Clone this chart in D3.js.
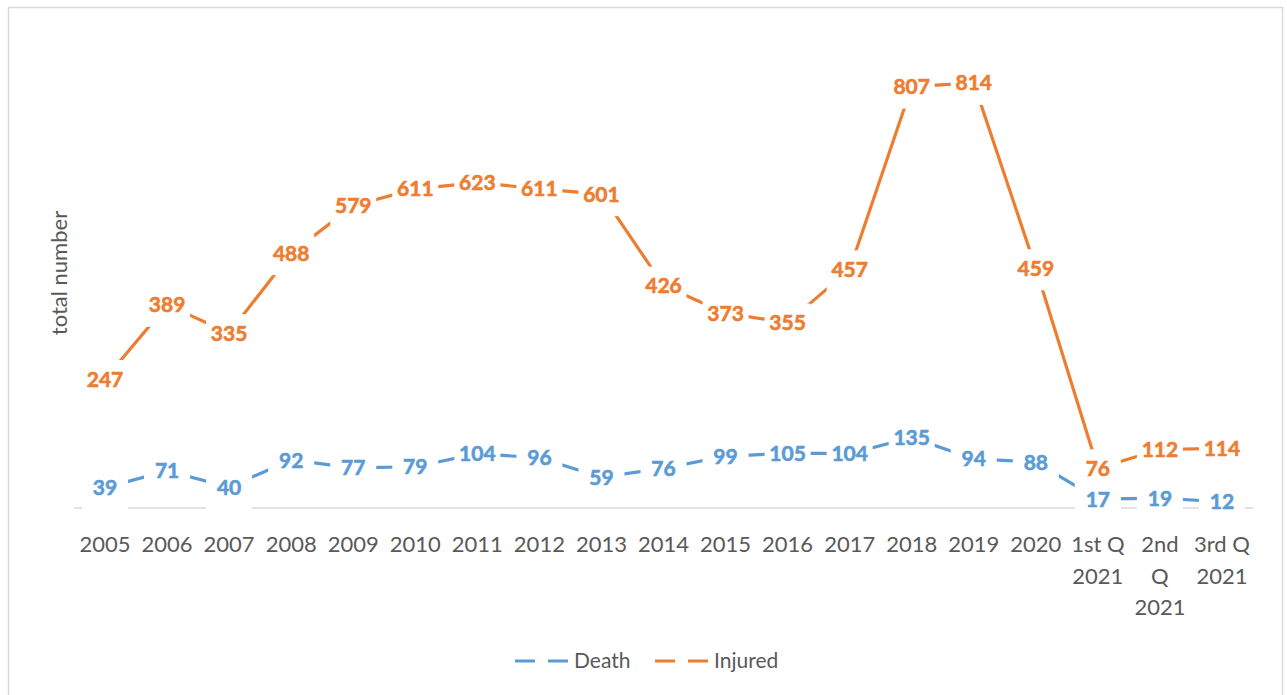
<!DOCTYPE html>
<html lang="en">
<head>
    <meta charset="UTF-8">
    <title>Death and Injured | D3</title>
    <style>
        body { margin: 0; background: #fff; }
        text { font-family: Lato, "Open Sans", sans-serif; }
    </style>
</head>
<body>
    <div id="container"></div>

    <script type="text/javascript" src="https://d3js.org/d3.v7.min.js"></script>
    <script type="text/javascript">
        // Categories (tick labels, "\n" = line break as in the original)
        var categories = ["2005", "2006", "2007", "2008", "2009", "2010", "2011", "2012", "2013",
            "2014", "2015", "2016", "2017", "2018", "2019", "2020",
            "1st Q\n2021", "2nd\nQ\n2021", "3rd Q\n2021"];

        var deathValues = [39, 71, 40, 92, 77, 79, 104, 96, 59, 76, 99, 105, 104, 135, 94, 88, 17, 19, 12];
        var injuredValues = [247, 389, 335, 488, 579, 611, 623, 611, 601, 426, 373, 355, 457, 807, 814, 459, 76, 112, 114];

        var seriesNames = ["Death", "Injured"];
        var seriesColors = ["#5B9BD5", "#ED7D31"];

        var width = 1287, height = 695;
        var margin = { left: 74, right: 34, top: 38, bottom: 187 };

        var svg = d3.select("#container")
            .append("svg")
            .attr("width", width)
            .attr("height", height);

        // Chart area border
        svg.append("rect")
            .attr("x", 8.5)
            .attr("y", 7.5)
            .attr("width", 1274)
            .attr("height", 700)
            .attr("fill", "#fff")
            .attr("stroke", "#D9D9D9")
            .attr("stroke-width", 1.5);

        var x = d3.scaleBand()
            .domain(categories)
            .range([margin.left, width - margin.right]);

        var y = d3.scaleLinear()
            .domain([0, 900])
            .range([height - margin.bottom, margin.top]);

        // Horizontal category axis line
        svg.append("line")
            .attr("x1", x.range()[0])
            .attr("x2", x.range()[1])
            .attr("y1", y(0))
            .attr("y2", y(0))
            .attr("stroke", "#D9D9D9")
            .attr("stroke-width", 1.5);

        // Tick labels (wrapped)
        var ticks = svg.append("g").attr("class", "x-ticks");
        categories.forEach(function(c) {
            var t = ticks.append("text")
                .attr("x", x(c) + x.bandwidth() / 2)
                .attr("y", y(0) + 44)
                .attr("text-anchor", "middle")
                .attr("fill", "#595959")
                .style("font-size", "22px");
            c.split("\n").forEach(function(line, i) {
                t.append("tspan")
                    .attr("x", x(c) + x.bandwidth() / 2)
                    .attr("dy", i === 0 ? 0 : 31.5)
                    .text(line);
            });
        });

        // Axis title
        svg.append("text")
            .attr("transform", "translate(67, 273) rotate(-90)")
            .attr("text-anchor", "middle")
            .attr("fill", "#595959")
            .style("font-size", "22px")
            .text("total number");

        var lineGen = d3.line()
            .x(function(d, i) { return x(categories[i]) + x.bandwidth() / 2; })
            .y(function(d) { return y(d); });

        var allSeries = [deathValues, injuredValues];

        // Lines first
        allSeries.forEach(function(vals, s) {
            svg.append("path")
                .datum(vals)
                .attr("d", lineGen)
                .attr("fill", "none")
                .attr("stroke", seriesColors[s])
                .attr("stroke-width", 3.2);
        });

        // Data labels sit on white boxes (fixed size, like Excel) that hide the line
        var boxW = 46, boxUp = 19, boxDown = 22;
        allSeries.forEach(function(vals, s) {
            var g = svg.append("g").attr("class", "labels-" + s);
            vals.forEach(function(v, i) {
                var cx = x(categories[i]) + x.bandwidth() / 2;
                var cy = y(v);
                g.append("rect")
                    .attr("fill", "#fff")
                    .attr("x", cx - boxW / 2)
                    .attr("y", cy - boxUp)
                    .attr("width", boxW)
                    .attr("height", boxUp + boxDown);
                g.append("text")
                    .attr("x", cx)
                    .attr("y", cy)
                    .attr("dy", "0.36em")
                    .attr("text-anchor", "middle")
                    .attr("fill", seriesColors[s])
                    .attr("stroke", seriesColors[s])
                    .attr("stroke-width", 0.6)
                    .style("font-size", "21px")
                    .style("font-weight", "bold")
                    .text(v);
            });
        });

        // Legend
        var legend = svg.append("g").attr("class", "legend");
        var legendX = [515, 655];
        seriesNames.forEach(function(name, s) {
            var lx = legendX[s], ly = 661;
            legend.append("line")
                .attr("x1", lx).attr("x2", lx + 55)
                .attr("y1", ly).attr("y2", ly)
                .attr("stroke", seriesColors[s])
                .attr("stroke-width", 3.2)
                .attr("stroke-dasharray", "20,13");
            legend.append("text")
                .attr("x", lx + 59)
                .attr("y", ly)
                .attr("dy", "0.35em")
                .attr("fill", "#595959")
                .style("font-size", "21px")
                .text(name);
        });
    </script>
</body>
</html>
